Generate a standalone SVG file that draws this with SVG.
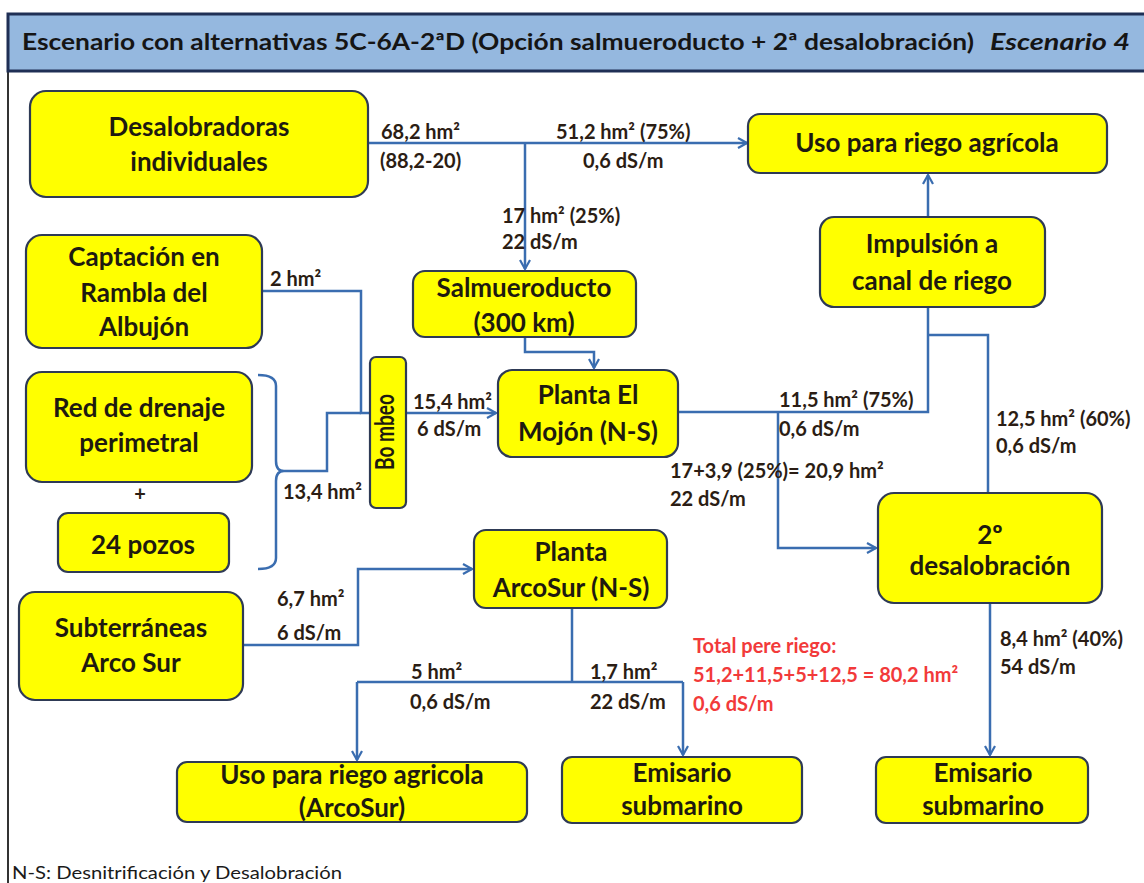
<svg xmlns="http://www.w3.org/2000/svg" width="1144" height="883" viewBox="0 0 1144 883">
<defs>
<style>
.node rect{fill:#FFFF00;stroke:#2E3A55;stroke-width:2.2}
.nt{font-family:"Lato","Liberation Sans",sans-serif;font-weight:bold;font-size:26px;fill:#1E1A10;text-anchor:middle}
.lb{font-family:"Lato","Liberation Sans",sans-serif;font-weight:bold;font-size:20px;fill:#2B1D14}
.red{fill:#F23A3A}
.con path{fill:none;stroke:#3A6DB0;stroke-width:2.5}
</style>
<marker id="ah" viewBox="0 0 12 12" refX="11" refY="6" markerWidth="12" markerHeight="12" markerUnits="userSpaceOnUse" orient="auto">
<polyline points="2,1 11,6 2,11" fill="none" stroke="#3A6DB0" stroke-width="2.2"/>
</marker>
</defs>
<rect x="0" y="0" width="1144" height="883" fill="#FFFFFF"/>
<g id="frame">
<line x1="8" y1="70" x2="8" y2="883" stroke="#333" stroke-width="2"/>
<rect x="8" y="14" width="1140" height="57" fill="#95B8DF" stroke="#1F2F55" stroke-width="3"/>
<text x="22" y="50" font-family="Lato,'Liberation Sans',sans-serif" font-weight="bold" font-size="23" fill="#151515" textLength="952" lengthAdjust="spacingAndGlyphs">Escenario con alternativas 5C-6A-2ªD (Opción salmueroducto + 2ª desalobración)</text>
<text x="990" y="50" font-family="Lato,'Liberation Sans',sans-serif" font-weight="bold" font-style="italic" font-size="23" fill="#151515" textLength="140" lengthAdjust="spacingAndGlyphs">Escenario 4</text>
</g>
<g id="connectors" class="con">
<path d="M368,143 H747" marker-end="url(#ah)"/>
<path d="M525,143 V269" marker-end="url(#ah)"/>
<path d="M525,337 V352 H594 V368" marker-end="url(#ah)"/>
<path d="M262,291 H361 V413 H369"/>
<path d="M258,375 Q276,375 276,386 V461 Q276,471 284,471 Q276,471 276,481 V558 Q276,569 258,569"/>
<path d="M284,471 H327 V413 H361"/>
<path d="M406,413 H496" marker-end="url(#ah)"/>
<path d="M678,412 H928 V307"/>
<path d="M988,493 V335 H928"/>
<path d="M928,217 V175" stroke-width="3.5" marker-end="url(#ah)"/>
<path d="M778,412 V548 H876" marker-end="url(#ah)"/>
<path d="M990,603 V755" marker-end="url(#ah)"/>
<path d="M243,645 H358 V569 H472" marker-end="url(#ah)"/>
<path d="M572,608 V682"/>
<path d="M357,682 H683"/>
<path d="M357,682 V760" marker-end="url(#ah)"/>
<path d="M683,682 V755" marker-end="url(#ah)"/>
</g>
<g id="n_desal" class="node"><rect x="30" y="91" width="338" height="106" rx="16"/><text class="nt" x="199" y="136">Desalobradoras</text><text class="nt" x="199" y="171">individuales</text></g>
<g id="n_captacion" class="node"><rect x="26" y="235" width="236" height="113" rx="16"/><text class="nt" x="144" y="266">Captación  en</text><text class="nt" x="144" y="302">Rambla del</text><text class="nt" x="144" y="336">Albujón</text></g>
<g id="n_red" class="node"><rect x="26" y="372" width="226" height="110" rx="16"/><text class="nt" x="139" y="417">Red de drenaje</text><text class="nt" x="139" y="452">perimetral</text></g>
<text class="lb" x="140" y="501" text-anchor="middle" font-size="20">+</text>
<g id="n_pozos" class="node"><rect x="58" y="513" width="171" height="59" rx="10"/><text class="nt" x="143" y="554">24 pozos</text></g>
<g id="n_subt" class="node"><rect x="19" y="592" width="224" height="108" rx="16"/><text class="nt" x="131" y="637">Subterráneas</text><text class="nt" x="131" y="672">Arco Sur</text></g>
<g id="n_bombeo" class="node"><rect x="370" y="357" width="36" height="151" rx="6"/><text class="nt" x="0" y="0" font-size="16" textLength="76" lengthAdjust="spacingAndGlyphs" transform="translate(394,432) rotate(-90)">Bo mbeo</text></g>
<g id="n_salm" class="node"><rect x="413" y="271" width="223" height="66" rx="12"/><text class="nt" x="524" y="297">Salmueroducto</text><text class="nt" x="524" y="332">(300 km)</text></g>
<g id="n_mojon" class="node"><rect x="498" y="370" width="180" height="87" rx="14"/><text class="nt" x="588" y="404">Planta El</text><text class="nt" x="588" y="441">Mojón  (N-S)</text></g>
<g id="n_uso" class="node"><rect x="748" y="114" width="359" height="59" rx="12"/><text class="nt" x="927" y="152">Uso para riego agrícola</text></g>
<g id="n_impulsion" class="node"><rect x="820" y="217" width="225" height="90" rx="14"/><text class="nt" x="932" y="253">Impulsión a</text><text class="nt" x="932" y="290">canal de riego</text></g>
<g id="n_2d" class="node"><rect x="878" y="493" width="224" height="110" rx="16"/><text class="nt" x="990" y="544">2º</text><text class="nt" x="990" y="575">desalobración</text></g>
<g id="n_arcosur" class="node"><rect x="474" y="530" width="193" height="78" rx="12"/><text class="nt" x="571" y="561">Planta</text><text class="nt" x="571" y="597">ArcoSur (N-S)</text></g>
<g id="n_uso2" class="node"><rect x="177" y="762" width="350" height="60" rx="10"/><text class="nt" x="352" y="784">Uso para riego agricola</text><text class="nt" x="352" y="817">(ArcoSur)</text></g>
<g id="n_emis1" class="node"><rect x="562" y="757" width="240" height="66" rx="10"/><text class="nt" x="682" y="782">Emisario</text><text class="nt" x="682" y="815">submarino</text></g>
<g id="n_emis2" class="node"><rect x="876" y="757" width="212" height="66" rx="10"/><text class="nt" x="983" y="782">Emisario</text><text class="nt" x="983" y="815">submarino</text></g>
<g id="labels">
<text class="lb" x="381" y="139">68,2 hm²</text>
<text class="lb" x="380" y="168">(88,2-20)</text>
<text class="lb" x="556" y="139">51,2 hm² (75%)</text>
<text class="lb" x="583" y="168">0,6 dS/m</text>
<text class="lb" x="502" y="223">17 hm² (25%)</text>
<text class="lb" x="502" y="249">22 dS/m</text>
<text class="lb" x="270" y="286">2 hm²</text>
<text class="lb" x="413" y="409">15,4 hm²</text>
<text class="lb" x="417" y="436">6 dS/m</text>
<text class="lb" x="283" y="499">13,4 hm²</text>
<text class="lb" x="277" y="606">6,7 hm²</text>
<text class="lb" x="277" y="640">6 dS/m</text>
<text class="lb" x="779" y="407">11,5 hm² (75%)</text>
<text class="lb" x="779" y="436">0,6 dS/m</text>
<text class="lb" x="996" y="426">12,5 hm² (60%)</text>
<text class="lb" x="996" y="453">0,6 dS/m</text>
<text class="lb" x="670" y="478">17+3,9 (25%)= 20,9 hm²</text>
<text class="lb" x="670" y="506">22 dS/m</text>
<text class="lb" x="411" y="679">5 hm²</text>
<text class="lb" x="410" y="709">0,6 dS/m</text>
<text class="lb" x="590" y="679">1,7 hm²</text>
<text class="lb" x="590" y="709">22 dS/m</text>
<text class="lb red" x="693" y="653">Total  pere riego:</text>
<text class="lb red" x="693" y="682">51,2+11,5+5+12,5 = 80,2 hm²</text>
<text class="lb red" x="693" y="711">0,6 dS/m</text>
<text class="lb" x="1000" y="646">8,4 hm² (40%)</text>
<text class="lb" x="1000" y="674">54 dS/m</text>
<text x="12" y="879" font-family="Lato,'Liberation Sans',sans-serif" font-size="18" fill="#1A1A1A" textLength="330" lengthAdjust="spacingAndGlyphs">N-S: Desnitrificación y Desalobración</text>
</g>
</svg>
